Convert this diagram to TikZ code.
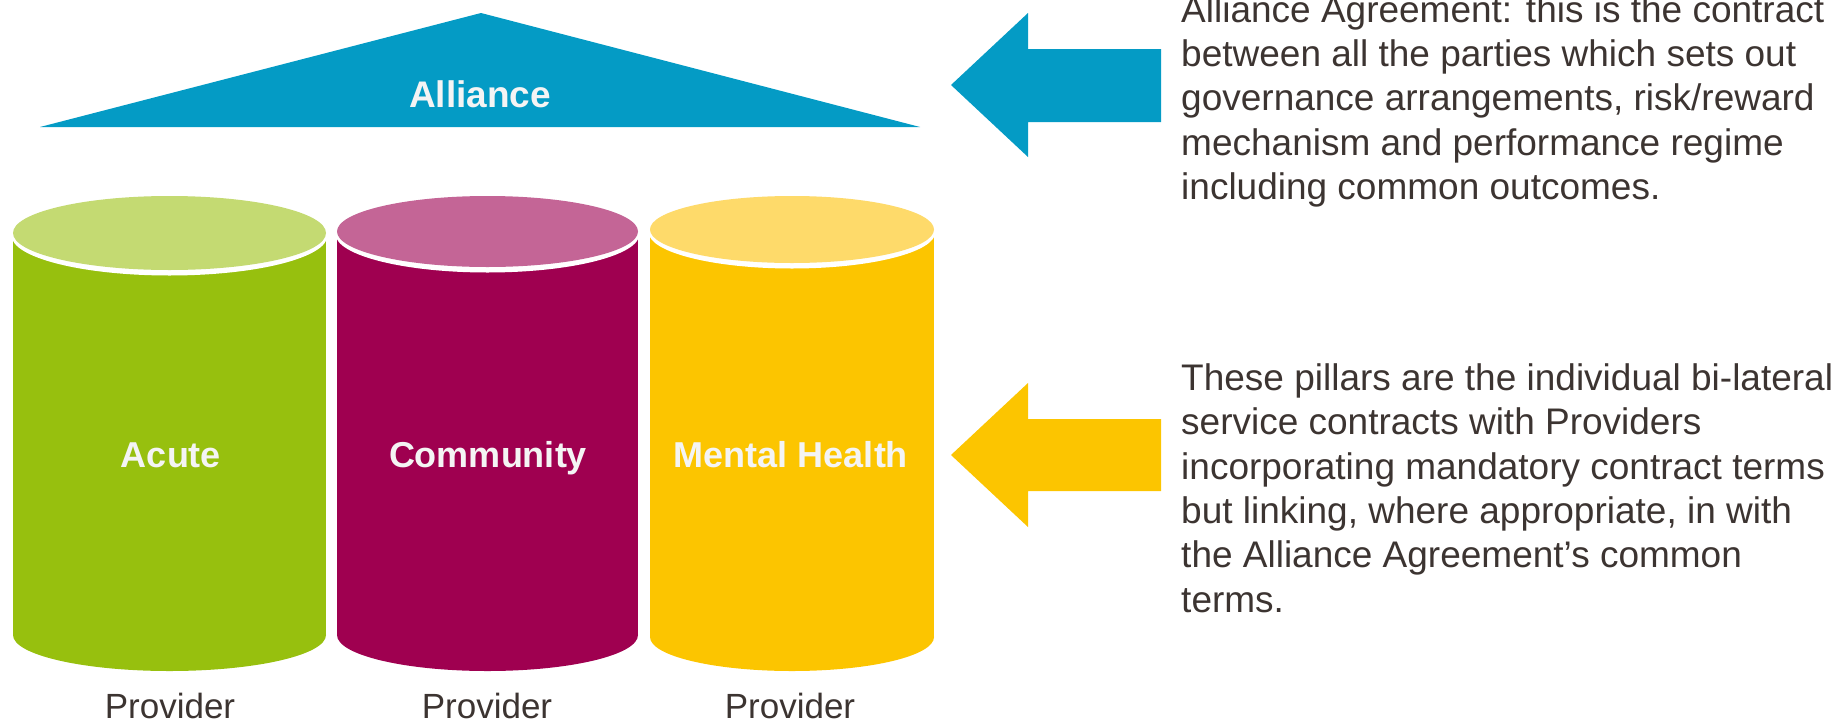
\documentclass[tikz,border=0pt]{standalone}
\usepackage{fontspec}
\setmainfont{Liberation Sans}
\definecolor{allianceblue}{HTML}{049BC5}
\definecolor{acutebody}{HTML}{97C00E}
\definecolor{acutetop}{HTML}{C4DA72}
\definecolor{communitybody}{HTML}{9F0050}
\definecolor{communitytop}{HTML}{C46596}
\definecolor{mentalbody}{HTML}{FCC500}
\definecolor{mentaltop}{HTML}{FEDA6A}
\definecolor{labelwhite}{HTML}{F4F4F4}
\definecolor{notegrey}{HTML}{3C3431}

\begin{document}
\begin{tikzpicture}[x=1pt,y=-1pt]
	\useasboundingbox (0,0) rectangle (1844,723);
	\tikzset{PillarLabel/.style = {text=labelwhite, font=\fontsize{36}{40}\selectfont\bfseries, anchor=base, inner sep=0pt},
	ProviderLabel/.style = {text=notegrey, font=\fontsize{35}{40}\selectfont, anchor=base, inner sep=0pt},
	NoteText/.style = {text=notegrey, font=\fontsize{37}{44.3}\selectfont, align=left, anchor=base west, inner sep=0pt}}
	% roof
	\fill[allianceblue] (481,13) -- (920,127) -- (40,127) -- cycle;
	\node[PillarLabel, font=\fontsize{37}{40}\selectfont\bfseries] (alliance) at (480,107) {Alliance};
	% pillars
	\fill[acutebody] (13,233) rectangle (326,635);
	\fill[acutebody] (169.5,635) ellipse [x radius=156.5, y radius=36];
	\fill[white] (169.5,235.5) ellipse [x radius=158, y radius=40];
	\fill[acutetop] (169.5,233) ellipse [x radius=156.5, y radius=37];
	\fill[communitybody] (337,231.5) rectangle (638,635);
	\fill[communitybody] (487.5,635) ellipse [x radius=150.5, y radius=36];
	\fill[white] (487.5,234) ellipse [x radius=152, y radius=38.5];
	\fill[communitytop] (487.5,231.5) ellipse [x radius=150.5, y radius=35.5];
	\fill[mentalbody] (650,229.5) rectangle (934,637);
	\fill[mentalbody] (792,637) ellipse [x radius=142, y radius=34];
	\fill[white] (792,232) ellipse [x radius=143.5, y radius=36.5];
	\fill[mentaltop] (792,229.5) ellipse [x radius=142, y radius=33.5];
	\node[PillarLabel] (acute) at (171,467) {Acute};
	\node[PillarLabel] (community) at (488,467) {Community};
	\node[PillarLabel] (mental) at (791,467) {Mental Health};
	\node[ProviderLabel] (provA) at (170,718) {Provider};
	\node[ProviderLabel] (provB) at (487,718) {Provider};
	\node[ProviderLabel] (provC) at (790,718) {Provider};
	% arrows
	\fill[allianceblue] (951,85) -- (1028,13) -- (1028,49) -- (1161,49) -- (1161,122) -- (1028,122) -- (1028,157) -- cycle;
	\fill[mentalbody] (951,455) -- (1028,383) -- (1028,419) -- (1161,419) -- (1161,491) -- (1028,491) -- (1028,527) -- cycle;
	% notes (anchored on the last line)
	\node[NoteText] (noteAlliance) at (1181,199.5) {Alliance Agreement: this is the contract\\
		between all the parties which sets out\\
		governance arrangements, risk/reward\\
		mechanism and performance regime\\
		including common outcomes.};
	\node[NoteText] (notePillars) at (1181,612) {These pillars are the individual bi-lateral\\
		service contracts with Providers\\
		incorporating mandatory contract terms\\
		but linking, where appropriate, in with\\
		the Alliance Agreement’s common\\
		terms.};
\end{tikzpicture}
\end{document}
